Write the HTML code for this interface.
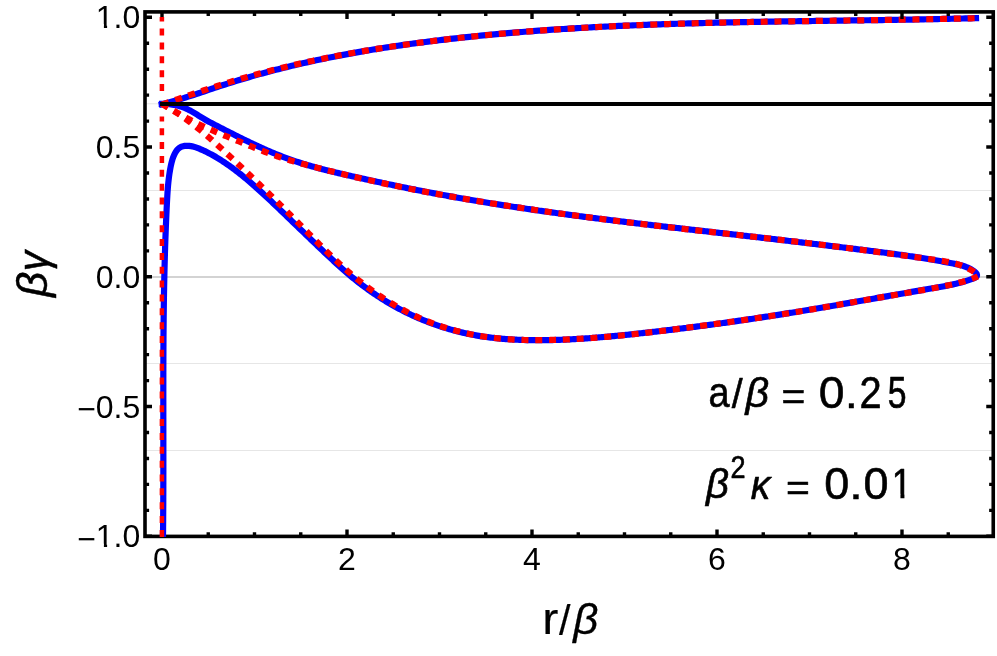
<!DOCTYPE html>
<html><head><meta charset="utf-8"><title>plot</title>
<style>html,body{margin:0;padding:0;background:#fff;}svg{display:block;will-change:transform;}</style>
</head><body>
<svg width="997" height="656" viewBox="0 0 997 656">
<rect x="0" y="0" width="997" height="656" fill="#ffffff"/>
<defs>
<clipPath id="pc"><rect x="145.0" y="11.9" width="848.25" height="525.0"/></clipPath>
</defs>
<line x1="145.0" y1="103.8" x2="993.25" y2="103.8" stroke="#e6e6e6" stroke-width="1"/>
<line x1="145.0" y1="190.5" x2="993.25" y2="190.5" stroke="#e6e6e6" stroke-width="1"/>
<line x1="145.0" y1="277.0" x2="993.25" y2="277.0" stroke="#c5c5c5" stroke-width="1.3"/>
<line x1="145.0" y1="363.5" x2="993.25" y2="363.5" stroke="#e6e6e6" stroke-width="1"/>
<line x1="145.0" y1="450.5" x2="993.25" y2="450.5" stroke="#e6e6e6" stroke-width="1"/>
<rect x="145.0" y="11.9" width="848.25" height="524.5" fill="none" stroke="#000" stroke-width="3.6"/>
<path d="M162.00,536.4 v-7.0 M208.25,536.4 v-4.1 M254.50,536.4 v-4.1 M300.75,536.4 v-4.1 M347.00,536.4 v-7.0 M393.25,536.4 v-4.1 M439.50,536.4 v-4.1 M485.75,536.4 v-4.1 M532.00,536.4 v-7.0 M578.25,536.4 v-4.1 M624.50,536.4 v-4.1 M670.75,536.4 v-4.1 M717.00,536.4 v-7.0 M763.25,536.4 v-4.1 M809.50,536.4 v-4.1 M855.75,536.4 v-4.1 M902.00,536.4 v-7.0 M948.25,536.4 v-4.1 M145.0,536.30 h7.0 M145.0,510.35 h4.1 M145.0,484.40 h4.1 M145.0,458.45 h4.1 M145.0,432.50 h4.1 M145.0,406.55 h7.0 M145.0,380.60 h4.1 M145.0,354.65 h4.1 M145.0,328.70 h4.1 M145.0,302.75 h4.1 M145.0,276.80 h7.0 M145.0,250.85 h4.1 M145.0,224.90 h4.1 M145.0,198.95 h4.1 M145.0,173.00 h4.1 M145.0,147.05 h7.0 M145.0,121.10 h4.1 M145.0,95.15 h4.1 M145.0,69.20 h4.1 M145.0,43.25 h4.1 M145.0,17.30 h7.0" stroke="#000" stroke-width="3.4" fill="none"/>
<g clip-path="url(#pc)" fill="none" stroke-linejoin="round">
<path d="M158.87,105.06 L161.56,104.40 L164.25,103.72 L166.93,103.01 L169.60,102.28 L172.26,101.53 L174.93,100.76 L177.58,99.97 L180.24,99.17 L182.89,98.35 L185.53,97.51 L188.17,96.67 L190.81,95.82 L193.45,94.95 L196.09,94.08 L198.72,93.21 L201.36,92.33 L203.99,91.45 L206.63,90.56 L209.26,89.68 L211.89,88.80 L214.53,87.92 L217.16,87.05 L219.80,86.18 L222.44,85.31 L225.08,84.46 L227.73,83.61 L230.37,82.77 L233.02,81.95 L235.67,81.13 L238.32,80.32 L240.98,79.51 L243.63,78.72 L246.29,77.93 L248.96,77.16 L251.62,76.39 L254.29,75.63 L256.95,74.88 L259.62,74.13 L262.30,73.40 L264.97,72.67 L267.65,71.95 L270.32,71.24 L273.00,70.54 L275.69,69.84 L278.37,69.16 L281.06,68.48 L283.74,67.81 L286.43,67.14 L289.12,66.49 L291.82,65.84 L294.51,65.19 L297.21,64.56 L299.91,63.93 L302.61,63.31 L305.31,62.70 L308.01,62.10 L310.72,61.50 L313.42,60.91 L316.13,60.32 L318.84,59.75 L321.55,59.18 L324.27,58.61 L326.98,58.06 L329.69,57.50 L332.41,56.96 L335.13,56.42 L337.85,55.89 L340.57,55.37 L343.29,54.85 L346.02,54.34 L348.74,53.83 L351.47,53.33 L354.19,52.84 L356.92,52.35 L359.65,51.87 L362.38,51.40 L365.11,50.93 L367.85,50.46 L370.58,50.01 L373.32,49.55 L376.05,49.11 L378.79,48.67 L381.53,48.23 L384.26,47.80 L387.00,47.38 L389.74,46.96 L392.49,46.54 L395.23,46.13 L397.97,45.73 L400.71,45.33 L403.46,44.94 L406.20,44.55 L408.95,44.16 L411.70,43.78 L414.44,43.41 L417.19,43.04 L419.94,42.67 L422.69,42.31 L425.44,41.95 L428.19,41.60 L430.94,41.25 L433.69,40.91 L436.44,40.57 L439.19,40.24 L441.95,39.91 L444.70,39.58 L447.45,39.26 L450.20,38.94 L452.96,38.62 L455.71,38.31 L458.47,38.01 L461.22,37.70 L463.98,37.40 L466.73,37.11 L469.49,36.82 L472.24,36.53 L475.00,36.25 L477.76,35.97 L480.52,35.69 L483.27,35.42 L486.03,35.15 L488.79,34.88 L491.55,34.62 L494.31,34.36 L497.07,34.11 L499.83,33.86 L502.59,33.61 L505.35,33.36 L508.11,33.12 L510.87,32.89 L513.63,32.65 L516.39,32.42 L519.15,32.19 L521.91,31.97 L524.68,31.75 L527.44,31.53 L530.20,31.32 L532.97,31.11 L535.73,30.90 L538.49,30.69 L541.26,30.49 L544.02,30.29 L546.79,30.10 L549.55,29.90 L552.32,29.71 L555.08,29.53 L557.85,29.34 L560.61,29.16 L563.38,28.98 L566.14,28.81 L568.91,28.63 L571.68,28.46 L574.45,28.30 L577.21,28.13 L579.98,27.97 L582.75,27.81 L585.52,27.65 L588.28,27.50 L591.05,27.35 L593.82,27.20 L596.59,27.05 L599.36,26.91 L602.13,26.77 L604.90,26.63 L607.67,26.49 L610.44,26.36 L613.21,26.23 L615.98,26.10 L618.75,25.97 L621.52,25.84 L624.29,25.72 L627.06,25.60 L629.83,25.48 L632.60,25.36 L635.37,25.25 L638.14,25.14 L640.91,25.03 L643.68,24.92 L646.46,24.81 L649.23,24.71 L652.00,24.61 L654.77,24.51 L657.55,24.41 L660.32,24.31 L663.09,24.22 L665.86,24.12 L668.64,24.03 L671.41,23.94 L674.18,23.85 L676.95,23.77 L679.73,23.68 L682.50,23.60 L685.27,23.52 L688.05,23.44 L690.82,23.36 L693.60,23.28 L696.37,23.21 L699.14,23.14 L701.92,23.06 L704.69,22.99 L707.47,22.92 L710.24,22.85 L713.01,22.79 L715.79,22.72 L718.56,22.66 L721.34,22.59 L724.11,22.53 L726.88,22.47 L729.66,22.41 L732.43,22.35 L735.21,22.29 L737.98,22.24 L740.76,22.18 L743.53,22.13 L746.31,22.07 L749.08,22.02 L751.86,21.97 L754.63,21.92 L757.41,21.87 L760.18,21.82 L762.96,21.77 L765.73,21.72 L768.50,21.68 L771.28,21.63 L774.05,21.58 L776.83,21.54 L779.60,21.50 L782.38,21.45 L785.15,21.41 L787.93,21.37 L790.70,21.32 L793.48,21.28 L796.25,21.24 L799.02,21.20 L801.80,21.16 L804.57,21.12 L807.35,21.08 L810.12,21.04 L812.90,21.00 L815.67,20.96 L818.44,20.92 L821.22,20.88 L823.99,20.85 L826.77,20.81 L829.54,20.77 L832.31,20.73 L835.09,20.69 L837.86,20.66 L840.63,20.62 L843.41,20.58 L846.18,20.54 L848.95,20.50 L851.73,20.46 L854.50,20.43 L857.27,20.39 L860.04,20.35 L862.82,20.31 L865.59,20.27 L868.36,20.23 L871.13,20.19 L873.90,20.15 L876.68,20.11 L879.45,20.07 L882.22,20.03 L884.99,19.98 L887.76,19.94 L890.53,19.90 L893.30,19.85 L896.08,19.81 L898.85,19.76 L901.62,19.72 L904.39,19.67 L907.16,19.63 L909.93,19.58 L912.70,19.53 L915.47,19.48 L918.24,19.43 L921.00,19.38 L923.77,19.33 L926.54,19.27 L929.31,19.22 L932.08,19.17 L934.85,19.11 L937.62,19.05 L940.38,19.00 L943.15,18.94 L945.92,18.88 L948.69,18.82 L951.45,18.75 L954.22,18.69 L956.99,18.63 L959.75,18.56 L962.52,18.49 L965.28,18.43 L968.05,18.36 L970.81,18.29 L973.58,18.21 L976.34,18.14 L979.11,18.06" stroke="#0000ff" stroke-width="6.2"/>
<path d="M158.80,103.78 L160.30,103.84 L161.80,103.88 L163.31,103.92 L164.81,103.96 L166.32,104.01 L167.83,104.09 L169.34,104.21 L170.84,104.37 L172.33,104.58 L173.82,104.82 L175.30,105.10 L176.77,105.42 L178.24,105.79 L179.68,106.19 L181.12,106.64 L182.54,107.12 L183.95,107.65 L185.34,108.22 L186.71,108.83 L188.06,109.48 L189.40,110.16 L190.72,110.86 L192.04,111.60 L193.34,112.35 L194.64,113.13 L195.93,113.91 L197.21,114.71 L198.50,115.51 L199.78,116.31 L201.06,117.11 L202.35,117.91 L203.64,118.69 L204.94,119.46 L206.24,120.22 L207.55,120.96 L208.87,121.68 L210.19,122.39 L211.52,123.09 L212.85,123.79 L214.19,124.48 L215.52,125.16 L216.86,125.85 L218.20,126.54 L219.53,127.23 L220.87,127.91 L222.21,128.60 L223.55,129.29 L224.89,129.97 L226.23,130.66 L227.57,131.34 L228.91,132.03 L230.25,132.71 L231.60,133.39 L232.94,134.07 L234.28,134.75 L235.63,135.43 L236.98,136.10 L238.33,136.77 L239.68,137.45 L241.03,138.12 L242.38,138.78 L243.73,139.45 L245.08,140.11 L246.44,140.77 L247.80,141.42 L249.15,142.08 L250.51,142.73 L251.87,143.37 L253.24,144.02 L254.60,144.66 L255.96,145.29 L257.33,145.93 L258.70,146.56 L260.07,147.18 L261.44,147.80 L262.81,148.42 L264.19,149.03 L265.57,149.64 L266.95,150.24 L268.33,150.84 L269.71,151.43 L271.09,152.02 L272.48,152.60 L273.87,153.18 L275.26,153.75 L276.65,154.32 L278.05,154.88 L279.44,155.43 L280.84,155.98 L282.24,156.53 L283.65,157.06 L285.05,157.59 L286.46,158.12 L287.87,158.63 L289.29,159.14 L290.70,159.65 L292.12,160.14 L293.54,160.63 L294.97,161.11 L296.39,161.59 L297.82,162.06 L299.25,162.52 L300.68,162.98 L302.12,163.43 L303.55,163.87 L304.99,164.31 L306.43,164.74 L307.88,165.17 L309.32,165.59 L310.77,166.00 L312.22,166.41 L313.67,166.82 L315.12,167.22 L316.57,167.62 L318.02,168.01 L319.48,168.40 L320.94,168.78 L322.40,169.16 L323.85,169.54 L325.32,169.91 L326.78,170.28 L328.24,170.64 L329.70,171.00 L331.17,171.36 L332.63,171.72 L334.10,172.07 L335.57,172.42 L337.03,172.77 L338.50,173.12 L339.97,173.46 L341.44,173.80 L342.91,174.15 L344.38,174.48 L345.85,174.82 L347.32,175.16 L348.79,175.49 L350.26,175.83 L351.73,176.16 L353.20,176.49 L354.67,176.82 L356.14,177.16 L357.61,177.49 L359.08,177.81 L360.55,178.14 L362.03,178.47 L363.50,178.80 L364.97,179.12 L366.44,179.45 L367.91,179.77 L369.38,180.10 L370.85,180.42 L372.32,180.74 L373.79,181.06 L375.26,181.38 L376.73,181.70 L378.21,182.02 L379.68,182.34 L381.15,182.65 L382.62,182.97 L384.09,183.28 L385.56,183.59 L387.03,183.91 L388.51,184.22 L389.98,184.53 L391.45,184.84 L392.92,185.15 L394.40,185.46 L395.87,185.76 L397.34,186.07 L398.81,186.37 L400.29,186.68 L401.76,186.98 L403.23,187.28 L404.71,187.58 L406.18,187.88 L407.66,188.18 L409.13,188.48 L410.61,188.77 L412.08,189.07 L413.55,189.36 L415.03,189.66 L416.51,189.95 L417.98,190.24 L419.46,190.53 L420.93,190.82 L422.41,191.11 L423.89,191.40 L425.36,191.68 L426.84,191.97 L428.32,192.25 L429.79,192.53 L431.27,192.81 L432.75,193.09 L434.23,193.37 L435.71,193.65 L437.19,193.93 L438.66,194.20 L440.14,194.48 L441.62,194.75 L443.10,195.02 L444.58,195.30 L446.06,195.57 L447.54,195.84 L449.02,196.10 L450.51,196.37 L451.99,196.64 L453.47,196.90 L454.95,197.17 L456.43,197.43 L457.91,197.69 L459.40,197.95 L460.88,198.21 L462.36,198.47 L463.84,198.73 L465.33,198.99 L466.81,199.25 L468.29,199.50 L469.78,199.76 L471.26,200.01 L472.74,200.26 L474.23,200.51 L475.71,200.76 L477.20,201.01 L478.68,201.26 L480.17,201.51 L481.65,201.76 L483.14,202.00 L484.62,202.25 L486.11,202.49 L487.60,202.73 L489.08,202.98 L490.57,203.22 L492.05,203.46 L493.54,203.70 L495.03,203.93 L496.51,204.17 L498.00,204.41 L499.49,204.64 L500.98,204.88 L502.46,205.11 L503.95,205.35 L505.44,205.58 L506.93,205.81 L508.42,206.04 L509.90,206.27 L511.39,206.50 L512.88,206.73 L514.37,206.96 L515.86,207.18 L517.35,207.41 L518.84,207.63 L520.33,207.86 L521.81,208.08 L523.30,208.30 L524.79,208.53 L526.28,208.75 L527.77,208.97 L529.26,209.19 L530.75,209.40 L532.24,209.62 L533.73,209.84 L535.22,210.06 L536.72,210.27 L538.21,210.49 L539.70,210.70 L541.19,210.91 L542.68,211.13 L544.17,211.34 L545.66,211.55 L547.15,211.76 L548.64,211.97 L550.13,212.18 L551.63,212.39 L553.12,212.59 L554.61,212.80 L556.10,213.01 L557.59,213.21 L559.08,213.42 L560.58,213.62 L562.07,213.83 L563.56,214.03 L565.05,214.23 L566.55,214.43 L568.04,214.63 L569.53,214.83 L571.02,215.03 L572.52,215.23 L574.01,215.43 L575.50,215.63 L576.99,215.83 L578.49,216.02 L579.98,216.22 L581.47,216.41 L582.97,216.61 L584.46,216.80 L585.95,217.00 L587.44,217.19 L588.94,217.38 L590.43,217.58 L591.92,217.77 L593.42,217.96 L594.91,218.15 L596.40,218.34 L597.90,218.53 L599.39,218.72 L600.89,218.91 L602.38,219.09 L603.87,219.28 L605.37,219.47 L606.86,219.65 L608.35,219.84 L609.85,220.03 L611.34,220.21 L612.84,220.40 L614.33,220.58 L615.82,220.76 L617.32,220.95 L618.81,221.13 L620.31,221.31 L621.80,221.50 L623.30,221.68 L624.79,221.86 L626.28,222.04 L627.78,222.22 L629.27,222.40 L630.77,222.58 L632.26,222.76 L633.76,222.94 L635.25,223.12 L636.75,223.30 L638.24,223.48 L639.74,223.65 L641.23,223.83 L642.73,224.01 L644.22,224.19 L645.72,224.36 L647.21,224.54 L648.70,224.72 L650.20,224.89 L651.69,225.07 L653.19,225.24 L654.68,225.42 L656.18,225.59 L657.67,225.77 L659.17,225.94 L660.67,226.12 L662.16,226.29 L663.66,226.46 L665.15,226.64 L666.65,226.81 L668.14,226.98 L669.64,227.16 L671.13,227.33 L672.63,227.50 L674.12,227.67 L675.62,227.85 L677.11,228.02 L678.61,228.19 L680.10,228.36 L681.60,228.54 L683.09,228.71 L684.59,228.88 L686.08,229.05 L687.58,229.22 L689.08,229.39 L690.57,229.56 L692.07,229.73 L693.56,229.91 L695.06,230.08 L696.55,230.25 L698.05,230.42 L699.54,230.59 L701.04,230.76 L702.53,230.93 L704.03,231.10 L705.53,231.27 L707.02,231.44 L708.52,231.61 L710.01,231.78 L711.51,231.95 L713.00,232.12 L714.50,232.29 L715.99,232.46 L717.49,232.64 L718.98,232.81 L720.48,232.98 L721.98,233.15 L723.47,233.32 L724.97,233.49 L726.46,233.66 L727.96,233.83 L729.45,234.00 L730.95,234.17 L732.44,234.35 L733.94,234.52 L735.43,234.69 L736.93,234.86 L738.43,235.03 L739.92,235.20 L741.42,235.38 L742.91,235.55 L744.41,235.72 L745.90,235.89 L747.40,236.07 L748.89,236.24 L750.39,236.41 L751.88,236.58 L753.38,236.76 L754.87,236.93 L756.37,237.10 L757.86,237.28 L759.36,237.45 L760.85,237.63 L762.35,237.80 L763.84,237.97 L765.34,238.15 L766.83,238.32 L768.33,238.50 L769.82,238.67 L771.32,238.85 L772.81,239.02 L774.31,239.20 L775.80,239.37 L777.30,239.55 L778.79,239.73 L780.29,239.90 L781.78,240.08 L783.28,240.26 L784.77,240.43 L786.27,240.61 L787.76,240.79 L789.26,240.96 L790.75,241.14 L792.25,241.32 L793.74,241.50 L795.24,241.67 L796.73,241.85 L798.23,242.03 L799.72,242.21 L801.22,242.39 L802.71,242.57 L804.21,242.74 L805.70,242.92 L807.20,243.10 L808.69,243.28 L810.19,243.46 L811.68,243.64 L813.18,243.82 L814.67,244.00 L816.16,244.18 L817.66,244.36 L819.15,244.54 L820.65,244.73 L822.14,244.91 L823.64,245.09 L825.13,245.27 L826.63,245.45 L828.12,245.63 L829.62,245.82 L831.11,246.00 L832.61,246.18 L834.10,246.36 L835.60,246.55 L837.09,246.73 L838.59,246.91 L840.08,247.10 L841.57,247.28 L843.07,247.47 L844.56,247.65 L846.06,247.84 L847.55,248.02 L849.05,248.21 L850.54,248.39 L852.04,248.58 L853.53,248.76 L855.03,248.95 L856.52,249.13 L858.02,249.32 L859.51,249.51 L861.01,249.69 L862.50,249.88 L863.99,250.07 L865.49,250.25 L866.98,250.44 L868.48,250.63 L869.97,250.82 L871.47,251.01 L872.96,251.20 L874.46,251.39 L875.95,251.58 L877.45,251.77 L878.94,251.96 L880.43,252.15 L881.93,252.34 L883.42,252.53 L884.92,252.73 L886.41,252.92 L887.90,253.12 L889.40,253.32 L890.89,253.52 L892.38,253.71 L893.87,253.91 L895.37,254.12 L896.86,254.32 L898.35,254.52 L899.84,254.73 L901.33,254.94 L902.82,255.15 L904.31,255.36 L905.80,255.57 L907.29,255.78 L908.78,256.00 L910.27,256.22 L911.76,256.44 L913.25,256.66 L914.74,256.88 L916.22,257.11 L917.71,257.33 L919.20,257.56 L920.68,257.80 L922.17,258.03 L923.65,258.27 L925.13,258.51 L926.62,258.75 L928.10,258.99 L929.58,259.24 L931.06,259.49 L932.55,259.74 L934.03,259.99 L935.51,260.25 L936.98,260.51 L938.46,260.78 L939.94,261.04 L941.42,261.31 L942.89,261.58 L944.37,261.86 L945.84,262.14 L947.32,262.42 L948.79,262.71 L950.26,263.00 L951.73,263.29 L953.21,263.58 L954.68,263.88 L956.14,264.19 L957.61,264.51 L959.08,264.84 L960.54,265.20 L961.99,265.60 L963.44,266.03 L964.89,266.51 L966.32,267.04 L967.75,267.64 L969.17,268.30 L970.58,269.04 L971.98,269.86 L973.37,270.77 L974.71,271.77 L975.87,272.83 L976.68,273.94 L977.02,275.06 L976.85,276.12 L976.18,277.02 L975.07,277.75 L973.69,278.35 L972.24,278.90 L970.78,279.42 L969.32,279.93 L967.86,280.42 L966.40,280.89 L964.94,281.34 L963.47,281.77 L962.00,282.18 L960.54,282.59 L959.07,282.97 L957.60,283.34 L956.12,283.70 L954.65,284.05 L953.18,284.38 L951.70,284.70 L950.23,285.02 L948.75,285.32 L947.27,285.62 L945.79,285.90 L944.31,286.18 L942.83,286.46 L941.35,286.73 L939.87,286.99 L938.39,287.26 L936.91,287.52 L935.43,287.77 L933.95,288.03 L932.47,288.28 L930.98,288.54 L929.50,288.80 L928.02,289.05 L926.54,289.31 L925.06,289.57 L923.58,289.83 L922.10,290.08 L920.61,290.34 L919.13,290.60 L917.65,290.86 L916.17,291.12 L914.69,291.38 L913.21,291.64 L911.72,291.90 L910.24,292.16 L908.76,292.42 L907.28,292.68 L905.80,292.94 L904.32,293.20 L902.83,293.46 L901.35,293.72 L899.87,293.98 L898.39,294.25 L896.91,294.51 L895.43,294.77 L893.94,295.03 L892.46,295.29 L890.98,295.55 L889.50,295.82 L888.02,296.08 L886.53,296.34 L885.05,296.60 L883.57,296.86 L882.09,297.13 L880.61,297.39 L879.12,297.65 L877.64,297.91 L876.16,298.17 L874.68,298.44 L873.19,298.70 L871.71,298.96 L870.23,299.22 L868.75,299.48 L867.27,299.75 L865.78,300.01 L864.30,300.27 L862.82,300.53 L861.34,300.79 L859.85,301.05 L858.37,301.31 L856.89,301.57 L855.40,301.83 L853.92,302.09 L852.44,302.35 L850.96,302.61 L849.47,302.87 L847.99,303.13 L846.51,303.39 L845.02,303.65 L843.54,303.91 L842.06,304.17 L840.57,304.42 L839.09,304.68 L837.61,304.94 L836.12,305.19 L834.64,305.45 L833.15,305.71 L831.67,305.96 L830.19,306.22 L828.70,306.47 L827.22,306.73 L825.74,306.98 L824.25,307.24 L822.77,307.49 L821.28,307.74 L819.80,308.00 L818.31,308.25 L816.83,308.50 L815.34,308.75 L813.86,309.00 L812.37,309.25 L810.89,309.50 L809.40,309.75 L807.92,310.00 L806.43,310.25 L804.95,310.49 L803.46,310.74 L801.98,310.99 L800.49,311.23 L799.01,311.48 L797.52,311.72 L796.04,311.97 L794.55,312.21 L793.06,312.45 L791.58,312.69 L790.09,312.93 L788.61,313.17 L787.12,313.41 L785.63,313.65 L784.15,313.89 L782.66,314.13 L781.17,314.37 L779.69,314.60 L778.20,314.84 L776.71,315.07 L775.22,315.31 L773.74,315.54 L772.25,315.77 L770.76,316.00 L769.27,316.24 L767.79,316.47 L766.30,316.69 L764.81,316.92 L763.32,317.15 L761.83,317.38 L760.35,317.60 L758.86,317.83 L757.37,318.06 L755.88,318.28 L754.39,318.50 L752.90,318.73 L751.41,318.95 L749.92,319.17 L748.43,319.39 L746.95,319.61 L745.46,319.83 L743.97,320.05 L742.48,320.26 L740.99,320.48 L739.50,320.69 L738.01,320.91 L736.52,321.12 L735.03,321.34 L733.54,321.55 L732.05,321.76 L730.56,321.97 L729.07,322.18 L727.57,322.39 L726.08,322.60 L724.59,322.81 L723.10,323.02 L721.61,323.23 L720.12,323.43 L718.63,323.64 L717.14,323.84 L715.65,324.04 L714.15,324.25 L712.66,324.45 L711.17,324.65 L709.68,324.85 L708.19,325.05 L706.69,325.25 L705.20,325.45 L703.71,325.65 L702.22,325.84 L700.73,326.04 L699.23,326.23 L697.74,326.43 L696.25,326.62 L694.75,326.82 L693.26,327.01 L691.77,327.20 L690.28,327.39 L688.78,327.58 L687.29,327.77 L685.80,327.96 L684.30,328.15 L682.81,328.33 L681.31,328.52 L679.82,328.70 L678.33,328.89 L676.83,329.07 L675.34,329.26 L673.84,329.44 L672.35,329.62 L670.85,329.80 L669.36,329.98 L667.87,330.16 L666.37,330.34 L664.88,330.52 L663.38,330.69 L661.89,330.87 L660.39,331.04 L658.90,331.22 L657.40,331.39 L655.91,331.57 L654.41,331.74 L652.91,331.91 L651.42,332.08 L649.92,332.25 L648.43,332.42 L646.93,332.59 L645.43,332.76 L643.94,332.92 L642.44,333.09 L640.95,333.26 L639.45,333.42 L637.95,333.58 L636.46,333.75 L634.96,333.91 L633.46,334.07 L631.97,334.23 L630.47,334.39 L628.97,334.55 L627.47,334.71 L625.98,334.86 L624.48,335.02 L622.98,335.17 L621.48,335.32 L619.99,335.47 L618.49,335.62 L616.99,335.77 L615.49,335.91 L613.99,336.06 L612.50,336.20 L611.00,336.34 L609.50,336.48 L608.00,336.62 L606.50,336.76 L605.00,336.89 L603.50,337.02 L602.00,337.15 L600.50,337.28 L599.00,337.41 L597.50,337.53 L596.00,337.65 L594.50,337.77 L593.00,337.89 L591.50,338.01 L590.00,338.12 L588.50,338.23 L587.00,338.34 L585.50,338.44 L584.00,338.55 L582.50,338.65 L581.00,338.74 L579.49,338.84 L577.99,338.93 L576.49,339.02 L574.99,339.11 L573.48,339.19 L571.98,339.27 L570.48,339.35 L568.98,339.42 L567.47,339.49 L565.97,339.56 L564.47,339.63 L562.96,339.69 L561.46,339.75 L559.95,339.80 L558.45,339.86 L556.94,339.91 L555.44,339.95 L553.93,339.99 L552.43,340.03 L550.92,340.06 L549.42,340.09 L547.91,340.12 L546.41,340.14 L544.90,340.16 L543.39,340.18 L541.89,340.19 L540.38,340.20 L538.87,340.20 L537.36,340.20 L535.86,340.20 L534.35,340.19 L532.84,340.17 L531.33,340.16 L529.83,340.13 L528.32,340.11 L526.81,340.07 L525.30,340.04 L523.80,340.00 L522.29,339.95 L520.78,339.90 L519.27,339.84 L517.77,339.77 L516.26,339.70 L514.76,339.63 L513.25,339.55 L511.75,339.46 L510.24,339.37 L508.74,339.27 L507.24,339.17 L505.73,339.06 L504.23,338.94 L502.73,338.81 L501.23,338.68 L499.73,338.54 L498.23,338.40 L496.73,338.25 L495.24,338.09 L493.74,337.92 L492.25,337.75 L490.75,337.57 L489.26,337.38 L487.77,337.19 L486.28,336.99 L484.79,336.77 L483.30,336.56 L481.81,336.33 L480.33,336.09 L478.84,335.85 L477.36,335.60 L475.88,335.34 L474.40,335.07 L472.92,334.79 L471.45,334.51 L469.97,334.21 L468.50,333.91 L467.03,333.60 L465.56,333.28 L464.09,332.95 L462.62,332.61 L461.16,332.27 L459.70,331.91 L458.24,331.55 L456.78,331.18 L455.32,330.80 L453.87,330.41 L452.41,330.02 L450.96,329.61 L449.52,329.20 L448.07,328.78 L446.63,328.35 L445.19,327.91 L443.75,327.47 L442.32,327.01 L440.88,326.55 L439.45,326.08 L438.03,325.60 L436.60,325.11 L435.18,324.62 L433.76,324.12 L432.35,323.60 L430.93,323.09 L429.52,322.56 L428.11,322.02 L426.71,321.48 L425.31,320.93 L423.91,320.37 L422.52,319.80 L421.13,319.22 L419.74,318.64 L418.35,318.04 L416.97,317.44 L415.59,316.84 L414.22,316.22 L412.85,315.60 L411.48,314.96 L410.12,314.32 L408.76,313.68 L407.40,313.02 L406.05,312.36 L404.70,311.69 L403.35,311.01 L402.01,310.32 L400.68,309.62 L399.34,308.92 L398.01,308.21 L396.69,307.49 L395.37,306.77 L394.05,306.03 L392.74,305.29 L391.43,304.54 L390.13,303.79 L388.83,303.03 L387.53,302.26 L386.24,301.48 L384.95,300.69 L383.67,299.90 L382.39,299.10 L381.11,298.30 L379.84,297.49 L378.58,296.67 L377.32,295.84 L376.06,295.01 L374.81,294.17 L373.56,293.32 L372.32,292.47 L371.08,291.61 L369.84,290.74 L368.61,289.87 L367.39,288.99 L366.17,288.11 L364.95,287.22 L363.74,286.32 L362.53,285.42 L361.33,284.51 L360.13,283.60 L358.94,282.68 L357.75,281.75 L356.57,280.82 L355.39,279.88 L354.22,278.94 L353.05,277.99 L351.89,277.03 L350.73,276.07 L349.57,275.11 L348.42,274.14 L347.28,273.16 L346.14,272.18 L345.00,271.20 L343.87,270.21 L342.74,269.21 L341.62,268.22 L340.50,267.21 L339.38,266.21 L338.26,265.20 L337.15,264.19 L336.04,263.17 L334.93,262.16 L333.83,261.14 L332.73,260.11 L331.63,259.09 L330.53,258.06 L329.43,257.04 L328.33,256.01 L327.24,254.97 L326.14,253.94 L325.05,252.91 L323.96,251.88 L322.86,250.84 L321.77,249.81 L320.68,248.77 L319.59,247.73 L318.50,246.69 L317.41,245.66 L316.32,244.62 L315.23,243.58 L314.14,242.54 L313.05,241.50 L311.96,240.46 L310.88,239.41 L309.79,238.37 L308.70,237.33 L307.61,236.29 L306.53,235.24 L305.44,234.20 L304.36,233.15 L303.27,232.11 L302.19,231.06 L301.10,230.02 L300.02,228.97 L298.93,227.93 L297.85,226.88 L296.77,225.83 L295.68,224.79 L294.60,223.74 L293.52,222.70 L292.43,221.65 L291.35,220.60 L290.27,219.56 L289.18,218.51 L288.10,217.47 L287.01,216.42 L285.93,215.38 L284.84,214.33 L283.76,213.29 L282.67,212.24 L281.59,211.20 L280.50,210.16 L279.41,209.12 L278.33,208.08 L277.24,207.04 L276.15,206.00 L275.06,204.96 L273.97,203.92 L272.88,202.89 L271.78,201.85 L270.69,200.82 L269.60,199.79 L268.50,198.76 L267.40,197.73 L266.30,196.70 L265.20,195.68 L264.10,194.66 L262.99,193.64 L261.88,192.62 L260.77,191.61 L259.66,190.60 L258.54,189.59 L257.42,188.58 L256.30,187.58 L255.18,186.58 L254.05,185.59 L252.92,184.60 L251.78,183.61 L250.65,182.63 L249.50,181.65 L248.36,180.68 L247.21,179.71 L246.05,178.74 L244.89,177.78 L243.73,176.83 L242.56,175.88 L241.39,174.93 L240.21,173.99 L239.03,173.06 L237.84,172.13 L236.65,171.21 L235.45,170.29 L234.25,169.38 L233.04,168.48 L231.82,167.58 L230.60,166.69 L229.37,165.81 L228.14,164.94 L226.90,164.08 L225.66,163.23 L224.41,162.38 L223.15,161.55 L221.89,160.73 L220.62,159.91 L219.34,159.11 L218.06,158.32 L216.77,157.55 L215.47,156.78 L214.17,156.03 L212.86,155.29 L211.54,154.57 L210.22,153.85 L208.89,153.16 L207.55,152.47 L206.20,151.81 L204.85,151.16 L203.49,150.52 L202.12,149.90 L200.74,149.30 L199.36,148.71 L197.96,148.15 L196.56,147.62 L195.14,147.14 L193.70,146.71 L192.25,146.35 L190.78,146.06 L189.28,145.87 L187.76,145.77 L186.21,145.78 L184.64,145.91 L183.10,146.19 L181.63,146.64 L180.28,147.26 L179.06,148.07 L177.97,149.03 L176.99,150.13 L176.11,151.33 L175.32,152.61 L174.61,153.96 L173.97,155.33 L173.39,156.73 L172.87,158.15 L172.40,159.58 L171.98,161.04 L171.59,162.50 L171.24,163.97 L170.92,165.45 L170.61,166.93 L170.33,168.41 L170.06,169.90 L169.81,171.38 L169.57,172.87 L169.34,174.36 L169.13,175.85 L168.93,177.35 L168.75,178.84 L168.58,180.33 L168.41,181.83 L168.26,183.33 L168.12,184.82 L167.99,186.32 L167.86,187.82 L167.75,189.32 L167.64,190.82 L167.53,192.32 L167.44,193.82 L167.34,195.33 L167.26,196.83 L167.17,198.33 L167.09,199.84 L167.01,201.34 L166.94,202.84 L166.86,204.35 L166.79,205.85 L166.71,207.35 L166.64,208.86 L166.57,210.36 L166.50,211.86 L166.43,213.37 L166.36,214.87 L166.30,216.37 L166.23,217.88 L166.17,219.38 L166.10,220.89 L166.04,222.39 L165.98,223.89 L165.92,225.40 L165.85,226.90 L165.80,228.41 L165.74,229.91 L165.68,231.41 L165.62,232.92 L165.57,234.42 L165.51,235.93 L165.46,237.43 L165.40,238.93 L165.35,240.44 L165.30,241.94 L165.25,243.45 L165.20,244.95 L165.15,246.45 L165.10,247.96 L165.06,249.46 L165.01,250.97 L164.96,252.47 L164.92,253.98 L164.88,255.48 L164.83,256.99 L164.79,258.49 L164.75,259.99 L164.71,261.50 L164.67,263.00 L164.63,264.51 L164.59,266.01 L164.55,267.52 L164.51,269.02 L164.48,270.53 L164.44,272.03 L164.41,273.54 L164.37,275.04 L164.34,276.55 L164.31,278.05 L164.27,279.56 L164.24,281.06 L164.21,282.57 L164.18,284.07 L164.15,285.58 L164.12,287.08 L164.10,288.59 L164.07,290.09 L164.04,291.60 L164.01,293.10 L163.99,294.61 L163.96,296.11 L163.94,297.62 L163.92,299.12 L163.89,300.63 L163.87,302.13 L163.85,303.64 L163.83,305.14 L163.81,306.65 L163.79,308.15 L163.77,309.66 L163.75,311.16 L163.73,312.67 L163.71,314.17 L163.69,315.68 L163.67,317.18 L163.66,318.69 L163.64,320.19 L163.63,321.70 L163.61,323.20 L163.60,324.71 L163.58,326.22 L163.57,327.72 L163.55,329.23 L163.54,330.73 L163.53,332.24 L163.52,333.74 L163.50,335.25 L163.49,336.75 L163.48,338.26 L163.47,339.76 L163.46,341.27 L163.45,342.78 L163.44,344.28 L163.44,345.79 L163.43,347.29 L163.42,348.80 L163.41,350.30 L163.40,351.81 L163.40,353.31 L163.39,354.82 L163.38,356.33 L163.38,357.83 L163.37,359.34 L163.37,360.84 L163.36,362.35 L163.36,363.85 L163.35,365.36 L163.35,366.87 L163.34,368.37 L163.34,369.88 L163.34,371.38 L163.33,372.89 L163.33,374.39 L163.33,375.90 L163.33,377.41 L163.32,378.91 L163.32,380.42 L163.32,381.92 L163.32,383.43 L163.32,384.93 L163.32,386.44 L163.32,387.95 L163.32,389.45 L163.31,390.96 L163.31,392.46 L163.31,393.97 L163.31,395.47 L163.31,396.98 L163.31,398.49 L163.31,399.99 L163.32,401.50 L163.32,403.00 L163.32,404.51 L163.32,406.01 L163.32,407.52 L163.32,409.03 L163.32,410.53 L163.32,412.04 L163.32,413.54 L163.32,415.05 L163.32,416.55 L163.33,418.06 L163.33,419.57 L163.33,421.07 L163.33,422.58 L163.33,424.08 L163.33,425.59 L163.33,427.10 L163.34,428.60 L163.34,430.11 L163.34,431.61 L163.34,433.12 L163.34,434.62 L163.34,436.13 L163.35,437.64 L163.35,439.14 L163.35,440.65 L163.35,442.15 L163.35,443.66 L163.35,445.16 L163.35,446.67 L163.35,448.17 L163.35,449.68 L163.35,451.19 L163.35,452.69 L163.36,454.20 L163.36,455.70 L163.36,457.21 L163.36,458.71 L163.36,460.22 L163.36,461.73 L163.35,463.23 L163.35,464.74 L163.35,466.24 L163.35,467.75 L163.35,469.25 L163.35,470.76 L163.35,472.26 L163.35,473.77 L163.34,475.28 L163.34,476.78 L163.34,478.29 L163.34,479.79 L163.33,481.30 L163.33,482.80 L163.33,484.31 L163.32,485.81 L163.32,487.32 L163.32,488.82 L163.31,490.33 L163.31,491.83 L163.30,493.34 L163.30,494.85 L163.29,496.35 L163.28,497.86 L163.28,499.36 L163.27,500.87 L163.26,502.37 L163.26,503.88 L163.25,505.38 L163.24,506.89 L163.23,508.39 L163.22,509.90 L163.21,511.40 L163.20,512.91 L163.19,514.41 L163.18,515.92 L163.17,517.42 L163.16,518.93 L163.15,520.43 L163.14,521.94 L163.12,523.44 L163.11,524.95 L163.10,526.45 L163.08,527.96 L163.07,529.46 L163.06,530.97 L163.04,532.47 L163.02,533.98 L163.01,535.48 L162.99,536.99 L162.97,538.49 L162.96,540.00" stroke="#0000ff" stroke-width="6.2"/>
<path d="M162.19,104.54 L164.81,103.64 L167.42,102.74 L170.03,101.83 L172.65,100.93 L175.26,100.03 L177.88,99.13 L180.49,98.24 L183.11,97.34 L185.72,96.44 L188.34,95.55 L190.96,94.66 L193.58,93.78 L196.20,92.90 L198.82,92.02 L201.45,91.14 L204.07,90.27 L206.70,89.41 L209.33,88.54 L211.96,87.69 L214.59,86.84 L217.22,86.00 L219.85,85.16 L222.49,84.33 L225.13,83.51 L227.77,82.69 L230.41,81.88 L233.05,81.08 L235.70,80.29 L238.35,79.51 L241.00,78.74 L243.65,77.97 L246.31,77.21 L248.96,76.46 L251.62,75.71 L254.28,74.98 L256.94,74.25 L259.61,73.53 L262.28,72.82 L264.94,72.11 L267.61,71.42 L270.29,70.73 L272.96,70.05 L275.64,69.37 L278.31,68.70 L280.99,68.04 L283.67,67.39 L286.36,66.74 L289.04,66.10 L291.73,65.47 L294.41,64.85 L297.10,64.23 L299.79,63.62 L302.49,63.02 L305.18,62.42 L307.88,61.83 L310.57,61.24 L313.27,60.67 L315.97,60.10 L318.67,59.53 L321.38,58.97 L324.08,58.42 L326.79,57.88 L329.49,57.34 L332.20,56.81 L334.91,56.28 L337.62,55.76 L340.33,55.24 L343.05,54.74 L345.76,54.23 L348.48,53.74 L351.19,53.25 L353.91,52.76 L356.63,52.28 L359.35,51.81 L362.07,51.34 L364.79,50.88 L367.52,50.42 L370.24,49.97 L372.97,49.53 L375.69,49.09 L378.42,48.65 L381.15,48.22 L383.88,47.80 L386.60,47.38 L389.33,46.96 L392.07,46.55 L394.80,46.15 L397.53,45.75 L400.26,45.35 L403.00,44.96 L405.73,44.58 L408.47,44.20 L411.20,43.82 L413.94,43.45 L416.68,43.08 L419.42,42.72 L422.16,42.36 L424.89,42.01 L427.63,41.66 L430.37,41.32 L433.11,40.98 L435.85,40.64 L438.60,40.31 L441.34,39.98 L444.08,39.65 L446.82,39.33 L449.56,39.02 L452.31,38.70 L455.05,38.39 L457.79,38.09 L460.54,37.79 L463.28,37.49 L466.03,37.20 L468.77,36.91 L471.52,36.62 L474.26,36.34 L477.01,36.06 L479.76,35.79 L482.50,35.51 L485.25,35.25 L488.00,34.98 L490.75,34.72 L493.49,34.46 L496.24,34.21 L498.99,33.96 L501.74,33.71 L504.49,33.47 L507.24,33.23 L509.99,32.99 L512.74,32.76 L515.49,32.53 L518.24,32.30 L520.99,32.08 L523.74,31.86 L526.49,31.64 L529.25,31.42 L532.00,31.21 L534.75,31.01 L537.50,30.80 L540.26,30.60 L543.01,30.40 L545.76,30.20 L548.52,30.01 L551.27,29.82 L554.03,29.63 L556.78,29.45 L559.53,29.27 L562.29,29.09 L565.04,28.91 L567.80,28.74 L570.56,28.57 L573.31,28.40 L576.07,28.23 L578.82,28.07 L581.58,27.91 L584.34,27.76 L587.09,27.60 L589.85,27.45 L592.61,27.30 L595.37,27.15 L598.12,27.01 L600.88,26.86 L603.64,26.72 L606.40,26.59 L609.16,26.45 L611.91,26.32 L614.67,26.19 L617.43,26.06 L620.19,25.93 L622.95,25.81 L625.71,25.69 L628.47,25.57 L631.23,25.45 L633.99,25.33 L636.75,25.22 L639.51,25.11 L642.27,25.00 L645.03,24.89 L647.79,24.79 L650.55,24.68 L653.31,24.58 L656.07,24.48 L658.83,24.38 L661.60,24.29 L664.36,24.19 L667.12,24.10 L669.88,24.01 L672.64,23.92 L675.40,23.83 L678.17,23.75 L680.93,23.66 L683.69,23.58 L686.45,23.50 L689.21,23.42 L691.98,23.34 L694.74,23.26 L697.50,23.19 L700.26,23.11 L703.03,23.04 L705.79,22.97 L708.55,22.90 L711.32,22.83 L714.08,22.77 L716.84,22.70 L719.60,22.63 L722.37,22.57 L725.13,22.51 L727.89,22.45 L730.66,22.39 L733.42,22.33 L736.18,22.27 L738.95,22.21 L741.71,22.16 L744.47,22.10 L747.24,22.05 L750.00,22.00 L752.76,21.95 L755.53,21.89 L758.29,21.84 L761.05,21.79 L763.82,21.75 L766.58,21.70 L769.34,21.65 L772.11,21.60 L774.87,21.56 L777.63,21.51 L780.40,21.47 L783.16,21.42 L785.92,21.38 L788.69,21.34 L791.45,21.30 L794.21,21.25 L796.98,21.21 L799.74,21.17 L802.50,21.13 L805.27,21.09 L808.03,21.05 L810.79,21.01 L813.56,20.97 L816.32,20.93 L819.08,20.89 L821.84,20.86 L824.61,20.82 L827.37,20.78 L830.13,20.74 L832.90,20.70 L835.66,20.66 L838.42,20.63 L841.18,20.59 L843.94,20.55 L846.71,20.51 L849.47,20.47 L852.23,20.44 L854.99,20.40 L857.75,20.36 L860.52,20.32 L863.28,20.28 L866.04,20.24 L868.80,20.20 L871.56,20.16 L874.32,20.12 L877.08,20.08 L879.84,20.04 L882.60,20.00 L885.36,19.96 L888.12,19.92 L890.88,19.88 L893.64,19.83 L896.40,19.79 L899.16,19.74 L901.92,19.70 L904.68,19.65 L907.44,19.61 L910.20,19.56 L912.96,19.51 L915.72,19.47 L918.48,19.42 L921.24,19.37 L923.99,19.32 L926.75,19.27 L929.51,19.21 L932.27,19.16 L935.02,19.11 L937.78,19.05 L940.54,19.00 L943.30,18.94 L946.05,18.88 L948.81,18.82 L951.56,18.76 L954.32,18.70 L957.08,18.64 L959.83,18.57 L962.59,18.51 L965.34,18.44 L968.10,18.37 L970.85,18.31 L973.61,18.24 L976.36,18.16 L979.11,18.09" stroke="#ff0000" stroke-width="6.2" stroke-dasharray="7.0 6.8"/>
<path d="M162.01,103.78 L163.04,104.41 L164.06,105.03 L165.09,105.66 L166.12,106.28 L167.15,106.89 L168.18,107.51 L169.21,108.13 L170.25,108.74 L171.28,109.35 L172.32,109.95 L173.36,110.56 L174.40,111.16 L175.44,111.76 L176.48,112.36 L177.53,112.95 L178.58,113.54 L179.63,114.13 L180.68,114.72 L181.73,115.30 L182.78,115.88 L183.84,116.46 L184.89,117.03 L185.95,117.60 L187.01,118.16 L188.07,118.73 L189.14,119.29 L190.20,119.84 L191.27,120.40 L192.34,120.94 L193.41,121.49 L194.48,122.03 L195.56,122.57 L196.63,123.10 L197.71,123.63 L198.79,124.16 L199.87,124.68 L200.96,125.20 L202.04,125.71 L203.13,126.22 L204.22,126.72 L205.31,127.23 L206.40,127.72 L207.49,128.22 L208.59,128.71 L209.69,129.20 L210.79,129.68 L211.88,130.17 L212.99,130.65 L214.09,131.12 L215.19,131.60 L216.30,132.07 L217.40,132.54 L218.51,133.01 L219.61,133.47 L220.72,133.94 L221.83,134.40 L222.94,134.86 L224.05,135.32 L225.16,135.78 L226.27,136.24 L227.39,136.69 L228.50,137.15 L229.61,137.60 L230.72,138.06 L231.84,138.51 L232.95,138.97 L234.06,139.42 L235.18,139.87 L236.29,140.33 L237.40,140.78 L238.52,141.23 L239.63,141.69 L240.74,142.14 L241.86,142.60 L242.97,143.06 L244.08,143.51 L245.20,143.97 L246.31,144.43 L247.42,144.88 L248.54,145.34 L249.65,145.79 L250.76,146.24 L251.88,146.70 L252.99,147.15 L254.11,147.60 L255.22,148.05 L256.34,148.49 L257.46,148.94 L258.57,149.38 L259.69,149.82 L260.81,150.26 L261.93,150.70 L263.05,151.13 L264.17,151.57 L265.30,151.99 L266.42,152.42 L267.54,152.84 L268.67,153.26 L269.80,153.67 L270.93,154.09 L272.06,154.49 L273.19,154.90 L274.32,155.30 L275.45,155.69 L276.59,156.08 L277.73,156.47 L278.86,156.85 L280.00,157.22 L281.15,157.59 L282.29,157.96 L283.43,158.32 L284.58,158.68 L285.73,159.04 L286.88,159.39 L288.03,159.73 L289.18,160.08 L290.33,160.42 L291.48,160.75 L292.64,161.09 L293.79,161.42 L294.95,161.75 L296.11,162.07 L297.26,162.40 L298.42,162.72 L299.58,163.04 L300.74,163.35 L301.90,163.67 L303.06,163.99 L304.22,164.30 L305.38,164.61 L306.54,164.92 L307.70,165.23 L308.87,165.54 L310.03,165.85 L311.19,166.15 L312.35,166.46 L313.51,166.77 L314.68,167.07 L315.84,167.37 L317.00,167.67 L318.17,167.98 L319.33,168.28 L320.50,168.58 L321.66,168.87 L322.82,169.17 L323.99,169.47 L325.15,169.76 L326.32,170.06 L327.48,170.35 L328.65,170.64 L329.82,170.93 L330.98,171.22 L332.15,171.51 L333.31,171.80 L334.48,172.09 L335.65,172.38 L336.81,172.66 L337.98,172.95 L339.15,173.23 L340.32,173.51 L341.49,173.80 L342.65,174.08 L343.82,174.36 L344.99,174.64 L346.16,174.92 L347.33,175.19 L348.50,175.47 L349.67,175.75 L350.84,176.02 L352.01,176.30 L353.18,176.57 L354.35,176.84 L355.52,177.11 L356.69,177.38 L357.86,177.65 L359.03,177.92 L360.20,178.19 L361.37,178.46 L362.54,178.72 L363.72,178.99 L364.89,179.25 L366.06,179.52 L367.23,179.78 L368.41,180.04 L369.58,180.30 L370.75,180.56 L371.92,180.82 L373.10,181.08 L374.27,181.34 L375.45,181.60 L376.62,181.85 L377.79,182.11 L378.97,182.36 L380.14,182.62 L381.32,182.87 L382.49,183.12 L383.67,183.37 L384.84,183.62 L386.02,183.87 L387.19,184.12 L388.37,184.37 L389.54,184.62 L390.72,184.86 L391.90,185.11 L393.07,185.35 L394.25,185.60 L395.43,185.84 L396.60,186.08 L397.78,186.32 L398.96,186.57 L400.13,186.81 L401.31,187.05 L402.49,187.28 L403.67,187.52 L404.85,187.76 L406.02,188.00 L407.20,188.23 L408.38,188.47 L409.56,188.70 L410.74,188.93 L411.92,189.17 L413.10,189.40 L414.27,189.63 L415.45,189.86 L416.63,190.09 L417.81,190.32 L418.99,190.55 L420.17,190.78 L421.35,191.00 L422.53,191.23 L423.71,191.46 L424.89,191.68 L426.07,191.91 L427.26,192.13 L428.44,192.35 L429.62,192.57 L430.80,192.79 L431.98,193.02 L433.16,193.24 L434.34,193.46 L435.52,193.67 L436.71,193.89 L437.89,194.11 L439.07,194.33 L440.25,194.54 L441.44,194.76 L442.62,194.97 L443.80,195.19 L444.98,195.40 L446.17,195.61 L447.35,195.83 L448.53,196.04 L449.72,196.25 L450.90,196.46 L452.08,196.67 L453.27,196.88 L454.45,197.08 L455.63,197.29 L456.82,197.50 L458.00,197.71 L459.19,197.91 L460.37,198.12 L461.55,198.32 L462.74,198.53 L463.92,198.73 L465.11,198.93 L466.29,199.13 L467.48,199.34 L468.66,199.54 L469.85,199.74 L471.03,199.94 L472.22,200.14 L473.40,200.34 L474.59,200.53 L475.77,200.73 L476.96,200.93 L478.15,201.13 L479.33,201.32 L480.52,201.52 L481.70,201.71 L482.89,201.91 L484.08,202.10 L485.26,202.29 L486.45,202.48 L487.64,202.68 L488.82,202.87 L490.01,203.06 L491.20,203.25 L492.38,203.44 L493.57,203.63 L494.76,203.82 L495.94,204.01 L497.13,204.19 L498.32,204.38 L499.50,204.57 L500.69,204.75 L501.88,204.94 L503.07,205.13 L504.25,205.31 L505.44,205.49 L506.63,205.68 L507.82,205.86 L509.01,206.04 L510.19,206.23 L511.38,206.41 L512.57,206.59 L513.76,206.77 L514.95,206.95 L516.13,207.13 L517.32,207.31 L518.51,207.49 L519.70,207.67 L520.89,207.85 L522.08,208.02 L523.27,208.20 L524.45,208.38 L525.64,208.55 L526.83,208.73 L528.02,208.91 L529.21,209.08 L530.40,209.26 L531.59,209.43 L532.78,209.60 L533.97,209.78 L535.15,209.95 L536.34,210.12 L537.53,210.29 L538.72,210.47 L539.91,210.64 L541.10,210.81 L542.29,210.98 L543.48,211.15 L544.67,211.32 L545.86,211.49 L547.05,211.66 L548.24,211.82 L549.43,211.99 L550.62,212.16 L551.81,212.33 L553.00,212.49 L554.19,212.66 L555.38,212.83 L556.56,212.99 L557.75,213.16 L558.94,213.32 L560.13,213.49 L561.32,213.65 L562.51,213.81 L563.70,213.98 L564.89,214.14 L566.09,214.30 L567.28,214.47 L568.47,214.63 L569.66,214.79 L570.85,214.95 L572.04,215.11 L573.23,215.27 L574.42,215.43 L575.61,215.59 L576.80,215.75 L577.99,215.91 L579.18,216.07 L580.37,216.23 L581.56,216.39 L582.75,216.55 L583.94,216.70 L585.13,216.86 L586.32,217.02 L587.52,217.17 L588.71,217.33 L589.90,217.49 L591.09,217.64 L592.28,217.80 L593.47,217.95 L594.66,218.11 L595.85,218.26 L597.04,218.41 L598.24,218.57 L599.43,218.72 L600.62,218.87 L601.81,219.03 L603.00,219.18 L604.19,219.33 L605.38,219.48 L606.58,219.63 L607.77,219.79 L608.96,219.94 L610.15,220.09 L611.34,220.24 L612.53,220.39 L613.73,220.54 L614.92,220.69 L616.11,220.84 L617.30,220.99 L618.49,221.13 L619.69,221.28 L620.88,221.43 L622.07,221.58 L623.26,221.73 L624.45,221.87 L625.65,222.02 L626.84,222.17 L628.03,222.31 L629.22,222.46 L630.42,222.61 L631.61,222.75 L632.80,222.90 L633.99,223.04 L635.19,223.19 L636.38,223.33 L637.57,223.48 L638.76,223.62 L639.96,223.77 L641.15,223.91 L642.34,224.05 L643.54,224.20 L644.73,224.34 L645.92,224.48 L647.12,224.63 L648.31,224.77 L649.50,224.91 L650.69,225.05 L651.89,225.19 L653.08,225.34 L654.27,225.48 L655.47,225.62 L656.66,225.76 L657.86,225.90 L659.05,226.04 L660.24,226.18 L661.44,226.32 L662.63,226.46 L663.82,226.60 L665.02,226.74 L666.21,226.88 L667.40,227.02 L668.60,227.16 L669.79,227.30 L670.99,227.43 L672.18,227.57 L673.37,227.71 L674.57,227.85 L675.76,227.99 L676.96,228.12 L678.15,228.26 L679.35,228.40 L680.54,228.54 L681.73,228.67 L682.93,228.81 L684.12,228.95 L685.32,229.08 L686.51,229.22 L687.71,229.36 L688.90,229.49 L690.10,229.63 L691.29,229.76 L692.49,229.90 L693.68,230.03 L694.88,230.17 L696.07,230.30 L697.27,230.44 L698.46,230.57 L699.66,230.71 L700.85,230.84 L702.05,230.98 L703.24,231.11 L704.44,231.25 L705.63,231.38 L706.83,231.51 L708.02,231.65 L709.22,231.78 L710.41,231.92 L711.61,232.05 L712.80,232.18 L714.00,232.32 L715.19,232.45 L716.39,232.58 L717.58,232.72 L718.78,232.85 L719.98,232.98 L721.17,233.12 L722.37,233.25 L723.56,233.38 L724.76,233.52 L725.95,233.65 L727.15,233.78 L728.34,233.92 L729.54,234.05 L730.73,234.18 L731.93,234.32 L733.12,234.45 L734.32,234.58 L735.51,234.72 L736.71,234.85 L737.91,234.99 L739.10,235.12 L740.30,235.25 L741.49,235.39 L742.69,235.52 L743.88,235.65 L745.08,235.79 L746.27,235.92 L747.47,236.05 L748.66,236.19 L749.86,236.32 L751.05,236.46 L752.25,236.59 L753.44,236.73 L754.64,236.86 L755.83,237.00 L757.02,237.13 L758.22,237.26 L759.41,237.40 L760.61,237.53 L761.80,237.67 L763.00,237.81 L764.19,237.94 L765.39,238.08 L766.58,238.21 L767.77,238.35 L768.97,238.48 L770.16,238.62 L771.36,238.76 L772.55,238.89 L773.74,239.03 L774.94,239.17 L776.13,239.31 L777.33,239.44 L778.52,239.58 L779.71,239.72 L780.91,239.86 L782.10,239.99 L783.29,240.13 L784.48,240.27 L785.68,240.41 L786.87,240.55 L788.06,240.69 L789.26,240.83 L790.45,240.97 L791.64,241.11 L792.83,241.25 L794.03,241.39 L795.22,241.53 L796.41,241.67 L797.60,241.82 L798.79,241.96 L799.99,242.10 L801.18,242.24 L802.37,242.38 L803.56,242.53 L804.75,242.67 L805.94,242.81 L807.13,242.96 L808.32,243.10 L809.52,243.25 L810.71,243.39 L811.90,243.54 L813.09,243.68 L814.28,243.83 L815.47,243.97 L816.66,244.12 L817.85,244.27 L819.04,244.41 L820.23,244.56 L821.42,244.71 L822.61,244.86 L823.80,245.01 L824.99,245.15 L826.18,245.30 L827.37,245.45 L828.56,245.60 L829.75,245.75 L830.94,245.90 L832.13,246.05 L833.32,246.20 L834.51,246.35 L835.70,246.50 L836.89,246.65 L838.08,246.80 L839.27,246.95 L840.46,247.11 L841.65,247.26 L842.84,247.41 L844.03,247.56 L845.22,247.72 L846.41,247.87 L847.60,248.02 L848.79,248.18 L849.98,248.33 L851.17,248.48 L852.36,248.64 L853.55,248.79 L854.74,248.95 L855.93,249.10 L857.12,249.26 L858.31,249.41 L859.50,249.57 L860.69,249.73 L861.88,249.88 L863.07,250.04 L864.26,250.20 L865.45,250.35 L866.64,250.51 L867.83,250.67 L869.02,250.82 L870.21,250.98 L871.40,251.14 L872.59,251.30 L873.79,251.46 L874.98,251.62 L876.17,251.77 L877.36,251.93 L878.55,252.09 L879.74,252.25 L880.94,252.41 L882.13,252.57 L883.32,252.73 L884.51,252.89 L885.71,253.05 L886.90,253.21 L888.09,253.37 L889.29,253.54 L890.48,253.70 L891.67,253.86 L892.87,254.02 L894.06,254.18 L895.25,254.34 L896.45,254.51 L897.64,254.67 L898.84,254.83 L900.03,255.00 L901.23,255.16 L902.42,255.32 L903.62,255.49 L904.81,255.65 L906.01,255.81 L907.20,255.98 L908.40,256.14 L909.60,256.31 L910.79,256.47 L911.99,256.63 L913.19,256.80 L914.38,256.96 L915.58,257.13 L916.78,257.29 L917.98,257.46 L919.18,257.63 L920.37,257.79 L921.57,257.96 L922.77,258.12 L923.97,258.29 L925.17,258.46 L926.37,258.62 L927.57,258.79 L928.77,258.96 L929.97,259.12 L931.17,259.29 L932.38,259.46 L933.58,259.63 L934.78,259.79 L935.98,259.96 L937.18,260.14 L938.38,260.31 L939.58,260.49 L940.78,260.67 L941.97,260.86 L943.16,261.05 L944.35,261.25 L945.54,261.46 L946.72,261.68 L947.90,261.90 L949.08,262.14 L950.25,262.39 L951.42,262.64 L952.58,262.91 L953.73,263.20 L954.88,263.49 L956.03,263.80 L957.17,264.13 L958.30,264.47 L959.42,264.83 L960.54,265.21 L961.64,265.60 L962.74,266.01 L963.83,266.45 L964.92,266.90 L965.99,267.38 L967.05,267.88 L968.10,268.40 L969.15,268.94 L970.18,269.51 L971.20,270.11 L972.21,270.73 L973.21,271.37 L974.19,272.05 L975.16,272.76 L976.11,273.50 L977.03,274.28 L977.93,275.10" stroke="#ff0000" stroke-width="6.2" stroke-dasharray="7.0 6.8"/>
<path d="M161.91,103.90 L163.05,104.52 L164.19,105.15 L165.33,105.79 L166.46,106.44 L167.58,107.09 L168.70,107.75 L169.82,108.41 L170.93,109.09 L172.03,109.77 L173.14,110.45 L174.23,111.14 L175.32,111.84 L176.41,112.54 L177.49,113.25 L178.57,113.97 L179.64,114.69 L180.71,115.41 L181.77,116.14 L182.83,116.88 L183.89,117.62 L184.94,118.37 L185.99,119.12 L187.04,119.88 L188.08,120.65 L189.11,121.41 L190.15,122.19 L191.18,122.96 L192.20,123.74 L193.23,124.53 L194.24,125.32 L195.26,126.12 L196.27,126.92 L197.28,127.72 L198.29,128.52 L199.29,129.34 L200.29,130.15 L201.29,130.97 L202.29,131.79 L203.28,132.62 L204.27,133.44 L205.26,134.28 L206.24,135.11 L207.22,135.95 L208.20,136.79 L209.18,137.63 L210.16,138.48 L211.13,139.33 L212.10,140.18 L213.07,141.03 L214.04,141.89 L215.01,142.75 L215.97,143.61 L216.93,144.47 L217.89,145.34 L218.85,146.21 L219.81,147.07 L220.76,147.94 L221.72,148.82 L222.67,149.69 L223.63,150.56 L224.58,151.44 L225.53,152.32 L226.48,153.20 L227.42,154.08 L228.37,154.96 L229.32,155.84 L230.27,156.72 L231.21,157.60 L232.16,158.48 L233.10,159.37 L234.04,160.25 L234.99,161.13 L235.93,162.02 L236.87,162.90 L237.81,163.79 L238.76,164.68 L239.70,165.56 L240.64,166.45 L241.57,167.34 L242.51,168.23 L243.45,169.12 L244.39,170.01 L245.33,170.90 L246.26,171.79 L247.20,172.68 L248.13,173.57 L249.07,174.47 L250.00,175.36 L250.94,176.25 L251.87,177.15 L252.80,178.04 L253.74,178.94 L254.67,179.83 L255.60,180.73 L256.53,181.63 L257.46,182.52 L258.39,183.42 L259.32,184.32 L260.25,185.22 L261.17,186.12 L262.10,187.02 L263.03,187.92 L263.95,188.82 L264.88,189.72 L265.81,190.62 L266.73,191.53 L267.65,192.43 L268.58,193.33 L269.50,194.24 L270.42,195.14 L271.35,196.05 L272.27,196.95 L273.19,197.86 L274.11,198.77 L275.03,199.67 L275.95,200.58 L276.87,201.49 L277.79,202.40 L278.71,203.31 L279.62,204.22 L280.54,205.13 L281.46,206.04 L282.38,206.95 L283.29,207.86 L284.21,208.77 L285.12,209.69 L286.04,210.60 L286.95,211.51 L287.86,212.43 L288.78,213.34 L289.69,214.26 L290.60,215.17 L291.51,216.09 L292.42,217.01 L293.34,217.92 L294.25,218.84 L295.16,219.76 L296.07,220.68 L296.97,221.60 L297.88,222.52 L298.79,223.44 L299.70,224.36 L300.61,225.28 L301.51,226.20 L302.42,227.12 L303.33,228.04 L304.23,228.96 L305.14,229.89 L306.04,230.81 L306.95,231.73 L307.85,232.66 L308.76,233.58 L309.67,234.50 L310.57,235.42 L311.48,236.34 L312.39,237.27 L313.29,238.19 L314.20,239.11 L315.11,240.03 L316.02,240.95 L316.93,241.86 L317.84,242.78 L318.75,243.70 L319.66,244.61 L320.58,245.53 L321.49,246.44 L322.41,247.35 L323.33,248.26 L324.24,249.17 L325.16,250.08 L326.08,250.98 L327.01,251.89 L327.93,252.79 L328.86,253.69 L329.78,254.59 L330.71,255.49 L331.65,256.39 L332.58,257.28 L333.51,258.17 L334.45,259.06 L335.39,259.95 L336.33,260.83 L337.28,261.71 L338.22,262.59 L339.17,263.47 L340.12,264.34 L341.07,265.21 L342.03,266.08 L342.99,266.95 L343.95,267.81 L344.92,268.67 L345.88,269.53 L346.85,270.38 L347.83,271.23 L348.80,272.08 L349.78,272.92 L350.76,273.76 L351.75,274.60 L352.74,275.43 L353.73,276.26 L354.73,277.09 L355.73,277.91 L356.73,278.73 L357.73,279.54 L358.74,280.35 L359.76,281.16 L360.77,281.96 L361.79,282.76 L362.81,283.56 L363.84,284.35 L364.86,285.14 L365.89,285.92 L366.93,286.70 L367.97,287.47 L369.01,288.24 L370.05,289.01 L371.10,289.77 L372.15,290.53 L373.20,291.28 L374.26,292.03 L375.32,292.77 L376.38,293.51 L377.44,294.24 L378.51,294.97 L379.58,295.70 L380.66,296.42 L381.74,297.13 L382.82,297.84 L383.90,298.55 L384.99,299.25 L386.08,299.94 L387.17,300.63 L388.27,301.32 L389.37,302.00 L390.47,302.67 L391.58,303.34 L392.69,304.01 L393.80,304.66 L394.91,305.32 L396.03,305.97 L397.15,306.61 L398.27,307.25 L399.40,307.88 L400.53,308.50 L401.66,309.12 L402.80,309.74 L403.94,310.35 L405.08,310.95 L406.22,311.55 L407.37,312.14 L408.52,312.73 L409.67,313.31 L410.83,313.88 L411.99,314.45 L413.15,315.01 L414.32,315.56 L415.48,316.11 L416.66,316.66 L417.83,317.19 L419.01,317.72 L420.18,318.25 L421.37,318.77 L422.55,319.28 L423.74,319.78 L424.93,320.28 L426.12,320.77 L427.32,321.26 L428.52,321.74 L429.72,322.21 L430.93,322.67 L432.13,323.13 L433.34,323.58 L434.56,324.03 L435.77,324.47 L436.99,324.90 L438.21,325.33 L439.43,325.75 L440.66,326.16 L441.88,326.57 L443.11,326.97 L444.34,327.37 L445.58,327.75 L446.81,328.14 L448.05,328.51 L449.29,328.88 L450.53,329.24 L451.78,329.60 L453.02,329.95 L454.27,330.29 L455.52,330.63 L456.77,330.96 L458.02,331.29 L459.28,331.60 L460.54,331.92 L461.79,332.22 L463.05,332.52 L464.32,332.82 L465.58,333.10 L466.84,333.39 L468.11,333.66 L469.37,333.93 L470.64,334.19 L471.91,334.45 L473.18,334.70 L474.46,334.95 L475.73,335.18 L477.00,335.42 L478.28,335.64 L479.56,335.86 L480.83,336.08 L482.11,336.29 L483.39,336.49 L484.67,336.69 L485.95,336.88 L487.24,337.06 L488.52,337.24 L489.80,337.41 L491.09,337.58 L492.37,337.74 L493.66,337.89 L494.94,338.04 L496.23,338.19 L497.51,338.32 L498.80,338.45 L500.09,338.58 L501.38,338.70 L502.67,338.81 L503.95,338.92 L505.24,339.02 L506.53,339.12 L507.82,339.21 L509.11,339.30 L510.40,339.38 L511.69,339.46 L512.98,339.53 L514.27,339.60 L515.56,339.66 L516.85,339.72 L518.14,339.77 L519.43,339.82 L520.73,339.87 L522.02,339.91 L523.31,339.94 L524.60,339.98 L525.89,340.00 L527.18,340.03 L528.48,340.05 L529.77,340.07 L531.06,340.08 L532.35,340.10 L533.64,340.10 L534.93,340.11 L536.23,340.11 L537.52,340.11 L538.81,340.11 L540.10,340.10 L541.39,340.09 L542.68,340.08 L543.98,340.07 L545.27,340.06 L546.56,340.04 L547.85,340.02 L549.14,339.99 L550.43,339.97 L551.72,339.94 L553.01,339.91 L554.30,339.88 L555.60,339.84 L556.89,339.81 L558.18,339.77 L559.47,339.73 L560.76,339.68 L562.05,339.64 L563.34,339.59 L564.63,339.54 L565.92,339.49 L567.21,339.43 L568.50,339.37 L569.79,339.32 L571.08,339.26 L572.37,339.19 L573.66,339.13 L574.95,339.06 L576.24,338.99 L577.53,338.92 L578.82,338.85 L580.10,338.77 L581.39,338.70 L582.68,338.62 L583.97,338.54 L585.26,338.46 L586.55,338.37 L587.84,338.29 L589.13,338.20 L590.42,338.11 L591.70,338.02 L592.99,337.92 L594.28,337.83 L595.57,337.73 L596.86,337.64 L598.15,337.54 L599.43,337.43 L600.72,337.33 L602.01,337.23 L603.30,337.12 L604.59,337.01 L605.87,336.90 L607.16,336.79 L608.45,336.68 L609.74,336.57 L611.02,336.45 L612.31,336.34 L613.60,336.22 L614.88,336.10 L616.17,335.98 L617.46,335.85 L618.74,335.73 L620.03,335.61 L621.32,335.48 L622.61,335.35 L623.89,335.22 L625.18,335.09 L626.46,334.96 L627.75,334.83 L629.04,334.70 L630.32,334.56 L631.61,334.43 L632.90,334.29 L634.18,334.15 L635.47,334.01 L636.75,333.87 L638.04,333.73 L639.32,333.59 L640.61,333.44 L641.89,333.30 L643.18,333.15 L644.47,333.01 L645.75,332.86 L647.04,332.71 L648.32,332.56 L649.61,332.41 L650.89,332.26 L652.17,332.11 L653.46,331.96 L654.74,331.80 L656.03,331.65 L657.31,331.49 L658.60,331.34 L659.88,331.18 L661.17,331.02 L662.45,330.87 L663.73,330.71 L665.02,330.55 L666.30,330.39 L667.59,330.23 L668.87,330.07 L670.15,329.91 L671.44,329.74 L672.72,329.58 L674.00,329.42 L675.29,329.25 L676.57,329.09 L677.85,328.93 L679.14,328.76 L680.42,328.60 L681.70,328.43 L682.98,328.26 L684.27,328.10 L685.55,327.93 L686.83,327.76 L688.11,327.60 L689.40,327.43 L690.68,327.26 L691.96,327.09 L693.24,326.92 L694.52,326.75 L695.81,326.59 L697.09,326.42 L698.37,326.25 L699.65,326.08 L700.93,325.91 L702.21,325.74 L703.50,325.57 L704.78,325.39 L706.06,325.22 L707.34,325.05 L708.62,324.88 L709.90,324.71 L711.18,324.53 L712.46,324.36 L713.74,324.19 L715.03,324.02 L716.31,323.84 L717.59,323.67 L718.87,323.49 L720.15,323.32 L721.43,323.14 L722.71,322.97 L723.99,322.79 L725.27,322.61 L726.55,322.44 L727.83,322.26 L729.11,322.08 L730.39,321.90 L731.67,321.72 L732.95,321.54 L734.22,321.36 L735.50,321.18 L736.78,321.00 L738.06,320.82 L739.34,320.64 L740.62,320.46 L741.90,320.28 L743.18,320.09 L744.46,319.91 L745.73,319.73 L747.01,319.54 L748.29,319.36 L749.57,319.17 L750.85,318.99 L752.13,318.80 L753.40,318.61 L754.68,318.43 L755.96,318.24 L757.24,318.05 L758.52,317.86 L759.79,317.67 L761.07,317.48 L762.35,317.29 L763.63,317.10 L764.90,316.91 L766.18,316.71 L767.46,316.52 L768.73,316.33 L770.01,316.13 L771.29,315.94 L772.57,315.74 L773.84,315.55 L775.12,315.35 L776.39,315.15 L777.67,314.95 L778.95,314.75 L780.22,314.55 L781.50,314.35 L782.78,314.15 L784.05,313.95 L785.33,313.75 L786.60,313.55 L787.88,313.34 L789.16,313.14 L790.43,312.93 L791.71,312.73 L792.98,312.52 L794.26,312.32 L795.53,312.11 L796.81,311.90 L798.08,311.69 L799.36,311.48 L800.63,311.27 L801.91,311.06 L803.18,310.84 L804.46,310.63 L805.73,310.42 L807.00,310.20 L808.28,309.99 L809.55,309.77 L810.83,309.56 L812.10,309.34 L813.38,309.12 L814.65,308.90 L815.92,308.68 L817.20,308.46 L818.47,308.24 L819.75,308.02 L821.02,307.80 L822.29,307.58 L823.57,307.36 L824.84,307.14 L826.11,306.92 L827.39,306.69 L828.66,306.47 L829.93,306.25 L831.21,306.03 L832.48,305.80 L833.75,305.58 L835.03,305.35 L836.30,305.13 L837.57,304.91 L838.85,304.68 L840.12,304.46 L841.39,304.23 L842.67,304.01 L843.94,303.78 L845.21,303.56 L846.49,303.33 L847.76,303.11 L849.03,302.88 L850.31,302.66 L851.58,302.44 L852.85,302.21 L854.13,301.99 L855.40,301.76 L856.67,301.54 L857.95,301.32 L859.22,301.09 L860.49,300.87 L861.77,300.65 L863.04,300.42 L864.32,300.20 L865.59,299.98 L866.86,299.76 L868.14,299.54 L869.41,299.32 L870.68,299.10 L871.96,298.88 L873.23,298.66 L874.51,298.44 L875.78,298.22 L877.05,298.00 L878.33,297.78 L879.60,297.57 L880.88,297.35 L882.15,297.13 L883.43,296.91 L884.70,296.70 L885.97,296.48 L887.25,296.26 L888.52,296.04 L889.80,295.83 L891.07,295.61 L892.35,295.39 L893.62,295.17 L894.90,294.95 L896.17,294.74 L897.44,294.52 L898.72,294.30 L899.99,294.08 L901.27,293.86 L902.54,293.64 L903.82,293.42 L905.09,293.20 L906.37,292.98 L907.64,292.76 L908.91,292.54 L910.19,292.32 L911.46,292.10 L912.74,291.88 L914.01,291.66 L915.29,291.43 L916.56,291.21 L917.83,290.98 L919.11,290.76 L920.38,290.53 L921.66,290.31 L922.93,290.08 L924.21,289.85 L925.48,289.62 L926.75,289.39 L928.03,289.17 L929.30,288.93 L930.58,288.70 L931.85,288.47 L933.12,288.24 L934.40,288.00 L935.67,287.77 L936.94,287.53 L938.22,287.29 L939.49,287.05 L940.76,286.80 L942.03,286.56 L943.30,286.31 L944.57,286.05 L945.83,285.79 L947.10,285.53 L948.36,285.26 L949.62,284.99 L950.88,284.71 L952.14,284.42 L953.40,284.13 L954.65,283.84 L955.90,283.53 L957.15,283.22 L958.39,282.90 L959.63,282.58 L960.87,282.24 L962.11,281.90 L963.34,281.55 L964.57,281.18 L965.79,280.81 L967.02,280.43 L968.23,280.04 L969.45,279.64 L970.66,279.23 L971.86,278.80 L973.06,278.37 L974.26,277.92 L975.45,277.46 L976.63,276.98 L977.82,276.50" stroke="#ff0000" stroke-width="6.2" stroke-dasharray="7.0 6.8"/>
<line x1="160.0" y1="103.95" x2="993.25" y2="103.95" stroke="#000" stroke-width="4.1"/>
</g>
<path d="M162.00,11.9 v7.0 M208.25,11.9 v4.1 M254.50,11.9 v4.1 M300.75,11.9 v4.1 M347.00,11.9 v7.0 M393.25,11.9 v4.1 M439.50,11.9 v4.1 M485.75,11.9 v4.1 M532.00,11.9 v7.0 M578.25,11.9 v4.1 M624.50,11.9 v4.1 M670.75,11.9 v4.1 M717.00,11.9 v7.0 M763.25,11.9 v4.1 M809.50,11.9 v4.1 M855.75,11.9 v4.1 M902.00,11.9 v7.0 M948.25,11.9 v4.1 M993.25,536.30 h-7.0 M993.25,510.35 h-4.1 M993.25,484.40 h-4.1 M993.25,458.45 h-4.1 M993.25,432.50 h-4.1 M993.25,406.55 h-7.0 M993.25,380.60 h-4.1 M993.25,354.65 h-4.1 M993.25,328.70 h-4.1 M993.25,302.75 h-4.1 M993.25,276.80 h-7.0 M993.25,250.85 h-4.1 M993.25,224.90 h-4.1 M993.25,198.95 h-4.1 M993.25,173.00 h-4.1 M993.25,147.05 h-7.0 M993.25,121.10 h-4.1 M993.25,95.15 h-4.1 M993.25,69.20 h-4.1 M993.25,43.25 h-4.1 M993.25,17.30 h-7.0" stroke="#000" stroke-width="3.4" fill="none"/>
<line x1="161.9" y1="536.9" x2="161.9" y2="116.6" stroke="#ff0000" stroke-width="4.5" stroke-dasharray="7.0 6.85"/>
<line x1="161.9" y1="91.1" x2="161.9" y2="17.05" stroke="#ff0000" stroke-width="4.5" stroke-dasharray="7.0 6.9"/>
<g font-family="Liberation Sans, sans-serif" font-size="32" fill="#000">
<text x="140.3" y="27.60" text-anchor="end">1.0</text>
<rect x="96.5" y="24.10" width="7.4" height="4.6" fill="#fff"/>
<rect x="107.1" y="24.10" width="6.4" height="4.6" fill="#fff"/>
<text x="140.3" y="158.45" text-anchor="end">0.5</text>
<text x="140.3" y="288.20" text-anchor="end">0.0</text>
<text x="140.3" y="417.95" text-anchor="end"><tspan dy="2.4">−</tspan><tspan dy="-2.4">0.5</tspan></text>
<text x="140.3" y="547.20" text-anchor="end"><tspan dy="2.4">−</tspan><tspan dy="-2.4">1.0</tspan></text>
<rect x="96.5" y="543.70" width="7.4" height="4.6" fill="#fff"/>
<rect x="107.1" y="543.70" width="6.4" height="4.6" fill="#fff"/>
<text x="161.80" y="570.3" text-anchor="middle">0</text>
<text x="346.80" y="570.3" text-anchor="middle">2</text>
<text x="531.80" y="570.3" text-anchor="middle">4</text>
<text x="716.80" y="570.3" text-anchor="middle">6</text>
<text x="901.80" y="570.3" text-anchor="middle">8</text>
</g>
<g font-family="Liberation Sans, sans-serif" font-size="44.0" fill="#000">
<text transform="translate(542.15,634.30) scale(1.1000,1.0017)" stroke="#000" stroke-width="0.190" stroke-linejoin="round">r</text>
<text transform="translate(559.00,634.97) scale(0.9421,0.9833)" stroke="#000" stroke-width="0.208" stroke-linejoin="round">/</text>
<text transform="translate(573.25,633.84) scale(0.9968,0.9538)" font-style="italic" stroke="#000" stroke-width="0.308" stroke-linejoin="round">β</text>
<text transform="rotate(-90) translate(-297.00,47.14) scale(1.0028,0.9647)" font-style="italic" stroke="#000" stroke-width="0.508" stroke-linejoin="round">β</text>
<text transform="rotate(-90) translate(-271.18,47.58) scale(0.9207,0.9709)" font-style="italic" stroke="#000" stroke-width="0.529" stroke-linejoin="round">γ</text>
<text transform="translate(708.50,407.38) scale(0.8601,0.9628)" stroke="#000" stroke-width="0.658" stroke-linejoin="round">a</text>
<text transform="translate(731.70,407.79) scale(0.8926,0.9431)" stroke="#000" stroke-width="0.654" stroke-linejoin="round">/</text>
<text transform="translate(745.43,406.81) scale(0.9370,0.9188)" font-style="italic" stroke="#000" stroke-width="0.647" stroke-linejoin="round">β</text>
<text transform="translate(781.56,409.72) scale(0.9278,0.8984)" stroke="#000" stroke-width="0.657" stroke-linejoin="round">=</text>
<text transform="translate(818.85,407.86) scale(1.0519,1.0055)" stroke="#000" stroke-width="0.583" stroke-linejoin="round">0</text>
<text transform="translate(844.47,407.95) scale(1.1244,0.9514)" stroke="#000" stroke-width="0.289" stroke-linejoin="round">.</text>
<text transform="translate(859.61,407.60) scale(0.9041,1.0003)" stroke="#000" stroke-width="0.630" stroke-linejoin="round">2</text>
<text transform="translate(887.75,407.76) scale(0.7656,1.0068)" stroke="#000" stroke-width="0.677" stroke-linejoin="round">5</text>
<text transform="translate(705.90,497.77) scale(0.9131,0.9236)" font-style="italic" stroke="#000" stroke-width="0.653" stroke-linejoin="round">β</text>
<text transform="translate(730.45,478.40) scale(0.6144,0.7006)" stroke="#000" stroke-width="0.913" stroke-linejoin="round">2</text>
<text transform="translate(750.71,498.50) scale(0.8874,0.9220)" font-style="italic" stroke="#000" stroke-width="0.663" stroke-linejoin="round">κ</text>
<text transform="translate(786.06,499.97) scale(0.9278,0.8381)" stroke="#000" stroke-width="0.680" stroke-linejoin="round">=</text>
<text transform="translate(824.20,498.91) scale(1.0233,1.0087)" stroke="#000" stroke-width="0.591" stroke-linejoin="round">0</text>
<text transform="translate(848.48,498.55) scale(1.2201,0.9725)" stroke="#000" stroke-width="0.274" stroke-linejoin="round">.</text>
<text transform="translate(863.60,498.91) scale(1.0233,1.0087)" stroke="#000" stroke-width="0.591" stroke-linejoin="round">0</text>
<text transform="translate(891.79,498.00) scale(0.8163,0.9818)" stroke="#000" stroke-width="0.667" stroke-linejoin="round">1</text><g transform="translate(891.79,498.00) scale(0.8163,0.9818)" fill="#fff"><rect x="1.76" y="-4.18" width="8.85" height="5.50"/><rect x="15.48" y="-4.18" width="8.36" height="5.50"/></g>
</g>
</svg>
</body></html>
